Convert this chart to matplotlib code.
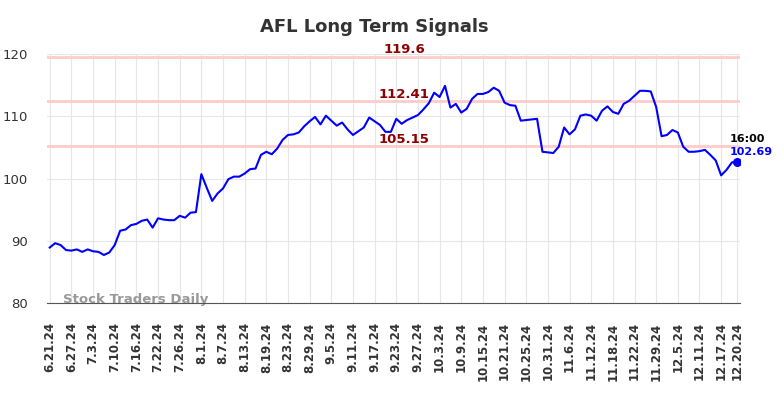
import matplotlib
matplotlib.use("Agg")
import matplotlib.pyplot as plt
import numpy as np

# 1. Data (daily closes)
ticker = "AFL"
prices = [
    88.9, 89.6, 89.3, 88.5, 88.4, 88.6, 88.2, 88.6, 88.3, 88.2,
    87.7, 88.1, 89.3, 91.6, 91.8, 92.5, 92.7, 93.2, 93.4, 92.1,
    93.6, 93.4, 93.3, 93.3, 94.0, 93.7, 94.5, 94.6, 100.7, 98.5,
    96.4, 97.6, 98.4, 99.9, 100.3, 100.3, 100.8, 101.5, 101.6, 103.8,
    104.3, 103.9, 104.8, 106.2, 107.0, 107.1, 107.4, 108.4, 109.2, 109.9,
    108.7, 110.1, 109.3, 108.5, 109.0, 107.9, 107.0, 107.6, 108.2, 109.8,
    109.2, 108.6, 107.5, 107.5, 109.6, 108.8, 109.4, 109.8, 110.2, 111.1,
    112.1, 113.8, 113.1, 114.9, 111.4, 112.0, 110.6, 111.2, 112.8, 113.6,
    113.6, 113.9, 114.6, 114.1, 112.2, 111.8, 111.7, 109.3, 109.4, 109.5,
    109.6, 104.3, 104.2, 104.1, 105.1, 108.2, 107.1, 107.9, 110.1, 110.3,
    110.1, 109.3, 110.9, 111.6, 110.7, 110.4, 112.0, 112.5, 113.3, 114.1,
    114.1, 114.0, 111.5, 106.8, 107.0, 107.8, 107.4, 105.1, 104.3, 104.3,
    104.4, 104.6, 103.8, 102.9, 100.5, 101.4, 102.6, 102.69,
]
tick_labels = [
    "6.21.24", "6.27.24", "7.3.24", "7.10.24", "7.16.24", "7.22.24", "7.26.24",
    "8.1.24", "8.7.24", "8.13.24", "8.19.24", "8.23.24", "8.29.24", "9.5.24",
    "9.11.24", "9.17.24", "9.23.24", "9.27.24", "10.3.24", "10.9.24",
    "10.15.24", "10.21.24", "10.25.24", "10.31.24", "11.6.24", "11.12.24",
    "11.18.24", "11.22.24", "11.29.24", "12.5.24", "12.11.24", "12.17.24",
    "12.20.24",
]
levels = [119.6, 112.41, 105.15]
last_time = "16:00"

# 2. Plot
x = np.arange(len(prices))
ticks = list(range(0, len(prices), 4)) + [len(prices) - 1]

fig = plt.figure(figsize=(7.84, 3.98), dpi=100)
ax = fig.add_axes([0.06, 0.239, 0.884, 0.625])

for lvl in levels:
    ax.axhline(lvl, color="#ffcccc", lw=2, zorder=1)
    ax.text(65.5, lvl + 0.1, f"{lvl:g}", color="#8b0000", fontsize=9.5,
            fontweight="bold", ha="center", va="bottom", zorder=4)

ax.plot(x, prices, color="#0000ff", lw=1.5, zorder=3)
ax.scatter([x[-1]], [prices[-1]], color="#0000ff", s=30, zorder=5)
ax.annotate(last_time, (x[-1], prices[-1]), xytext=(-8, 23), textcoords="offset pixels",
            fontsize=8, fontweight="bold", color="black", ha="left", va="center")
ax.annotate(f"{prices[-1]:.2f}", (x[-1], prices[-1]), xytext=(-8, 10), textcoords="offset pixels",
            fontsize=8, fontweight="bold", color="#0000ff", ha="left", va="center")

ax.text(2.5, 80.5, "Stock Traders Daily", color="#999999", fontsize=9.5,
        fontweight="bold", ha="left", va="center", zorder=2)

ax.set_xlim(-0.5, len(prices) - 0.5)
ax.set_ylim(80, 120)
ax.set_yticks([80, 90, 100, 110, 120])
ax.set_xticks(ticks)
ax.set_xticklabels(tick_labels, rotation=90, fontsize=8.5, fontweight="bold", color="#333333")
ax.tick_params(axis="y", labelsize=9.5, colors="#333333", length=0, pad=14)
ax.tick_params(axis="x", length=0, pad=14)
ax.grid(color="#e6e6e6", lw=0.8, zorder=0)
ax.set_axisbelow(True)
for side in ["top", "right", "left"]:
    ax.spines[side].set_visible(False)
ax.spines["bottom"].set_color("#555555")

fig.suptitle(f"{ticker} Long Term Signals", x=0.478, y=0.955, fontsize=13,
             fontweight="bold", color="#333333")

fig.savefig("out.png", dpi=100)
